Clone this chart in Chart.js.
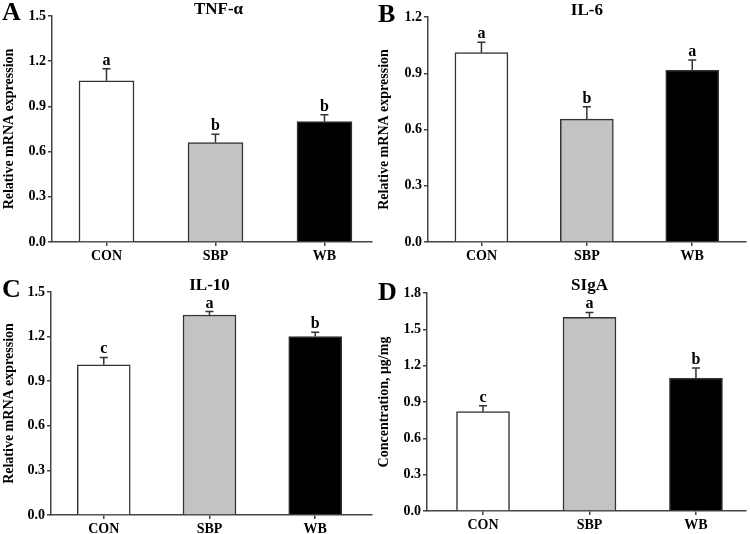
<!DOCTYPE html>
<html><head><meta charset="utf-8">
<script src="https://cdn.jsdelivr.net/npm/chart.js@4.4.1/dist/chart.umd.min.js"></script>
<style>
html,body{margin:0;padding:0;background:#fff;}
#wrap{position:relative;width:750px;height:534px;background:#fff;}
.p{position:absolute;width:375px;height:267px;}
canvas{display:block;}
</style></head><body>
<div id="wrap">
<div class="p" style="left:0;top:0"><canvas id="cA" width="375" height="267"></canvas></div>
<div class="p" style="left:375px;top:0"><canvas id="cB" width="375" height="267"></canvas></div>
<div class="p" style="left:0;top:267px"><canvas id="cC" width="375" height="267"></canvas></div>
<div class="p" style="left:375px;top:267px"><canvas id="cD" width="375" height="267"></canvas></div>
</div>
<script>
// ---- data ----
const categories = ['CON', 'SBP', 'WB'];

const tnfMean = [1.07, 0.66, 0.80];
const tnfErr  = [0.08, 0.055, 0.045];
const tnfSig  = ['a', 'b', 'b'];
const tnfTicks = [0.0, 0.3, 0.6, 0.9, 1.2, 1.5];

const il6Mean = [1.01, 0.655, 0.915];
const il6Err  = [0.055, 0.067, 0.056];
const il6Sig  = ['a', 'b', 'a'];
const il6Ticks = [0.0, 0.3, 0.6, 0.9, 1.2];

const il10Mean = [1.01, 1.345, 1.20];
const il10Err  = [0.05, 0.023, 0.029];
const il10Sig  = ['c', 'a', 'b'];
const il10Ticks = [0.0, 0.3, 0.6, 0.9, 1.2, 1.5];

const sigaMean = [0.82, 1.60, 1.095];
const sigaErr  = [0.05, 0.04, 0.085];
const sigaSig  = ['c', 'a', 'b'];
const sigaTicks = [0.0, 0.3, 0.6, 0.9, 1.2, 1.5, 1.8];

const barColors = ['#ffffff', '#c3c3c3', '#000000'];
// ---------------

const FONT = '"Liberation Serif", "Times New Roman", serif';
Chart.defaults.font.family = FONT;
Chart.defaults.color = '#000';

function makePanel(id, cfg) {
  const W = 375, H = 267;
  const area = cfg.area;
  const annot = {
    id: 'annot_' + id,
    afterDatasetsDraw(chart) {
      const { ctx, scales: { x, y } } = chart;
      ctx.save();
      cfg.mean.forEach((m, i) => {
        const px = x.getPixelForValue(i);
        const top = y.getPixelForValue(m);
        const et = y.getPixelForValue(m + cfg.err[i]);
        ctx.strokeStyle = '#333';
        ctx.lineWidth = 1.5;
        ctx.beginPath();
        ctx.moveTo(px, top); ctx.lineTo(px, et);
        ctx.moveTo(px - 4, et); ctx.lineTo(px + 4, et);
        ctx.stroke();
        ctx.fillStyle = '#000';
        ctx.font = 'bold 16px ' + FONT;
        ctx.textAlign = 'center';
        ctx.textBaseline = 'alphabetic';
        ctx.fillText(cfg.sig[i], px, et - 4);
      });
      ctx.font = 'bold 17px ' + FONT;
      ctx.textAlign = 'center';
      ctx.fillText(cfg.title, x.getPixelForValue(1) + cfg.titleDx, cfg.titleY);
      ctx.font = 'bold 26px ' + FONT;
      ctx.textAlign = 'left';
      ctx.fillText(cfg.letter, cfg.letterX, cfg.letterY);
      ctx.restore();
    }
  };
  return new Chart(document.getElementById(id), {
    type: 'bar',
    data: {
      datasets: [{
        data: cfg.mean.map((v, i) => ({ x: i, y: v })),
        backgroundColor: barColors,
        borderColor: '#333',
        borderWidth: 1.5,
        barThickness: cfg.barW
      }]
    },
    options: {
      responsive: false,
      animation: false,
      layout: { padding: { left: 0, top: area.top, right: W - area.right, bottom: 0 } },
      plugins: { legend: { display: false }, tooltip: { enabled: false } },
      scales: {
        x: {
          type: 'linear',
          offset: false,
          min: cfg.xMin, max: cfg.xMax,
          afterBuildTicks: s => { s.ticks = categories.map((c, i) => ({ value: i })); },
          afterFit: s => { s.height = H - area.bottom; },
          grid: { offset: false, drawOnChartArea: false, drawTicks: true, tickLength: 4, color: '#444', lineWidth: 1.5 },
          border: { color: '#444', width: 1.5 },
          ticks: { callback: v => categories[v], font: { size: 14, weight: 'bold' }, color: '#000', padding: 2, maxRotation: 0, autoSkip: false }
        },
        y: {
          min: 0, max: cfg.ticks[cfg.ticks.length - 1],
          afterBuildTicks: s => { s.ticks = cfg.ticks.map(v => ({ value: v })); },
          afterFit: s => { s.width = area.left; },
          grid: { drawOnChartArea: false, drawTicks: true, tickLength: 4, color: '#444', lineWidth: 1.5 },
          border: { color: '#444', width: 1.5 },
          ticks: { callback: v => Number(v).toFixed(1), font: { size: 14, weight: 'bold' }, color: '#000', padding: 2, autoSkip: false },
          title: { display: true, text: cfg.yTitle, font: { size: 14, weight: 'bold' }, color: '#000', padding: { top: 1, bottom: 0 } }
        }
      }
    },
    plugins: [annot]
  });
}

makePanel('cA', {
  mean: tnfMean, err: tnfErr, sig: tnfSig, ticks: tnfTicks,
  title: 'TNF-α', titleDx: 3, titleY: 14, letter: 'A', letterX: 2, letterY: 20,
  yTitle: 'Relative mRNA expression',
  area: { left: 52, right: 372, top: 16, bottom: 242 },
  xMin: -0.5, xMax: 2.436, barW: 55
});
makePanel('cB', {
  mean: il6Mean, err: il6Err, sig: il6Sig, ticks: il6Ticks,
  title: 'IL-6', titleDx: 0, titleY: 15, letter: 'B', letterX: 3, letterY: 21.5,
  yTitle: 'Relative mRNA expression',
  area: { left: 53, right: 371, top: 17, bottom: 242 },
  xMin: -0.507, xMax: 2.51, barW: 53
});
makePanel('cC', {
  mean: il10Mean, err: il10Err, sig: il10Sig, ticks: il10Ticks,
  title: 'IL-10', titleDx: 0, titleY: 23, letter: 'C', letterX: 2, letterY: 30,
  yTitle: 'Relative mRNA expression',
  area: { left: 51, right: 372, top: 25, bottom: 248 },
  xMin: -0.499, xMax: 2.537, barW: 53
});
makePanel('cD', {
  mean: sigaMean, err: sigaErr, sig: sigaSig, ticks: sigaTicks,
  title: 'SIgA', titleDx: 0, titleY: 23, letter: 'D', letterX: 3, letterY: 33,
  yTitle: 'Concentration, μg/mg',
  area: { left: 52, right: 371, top: 26, bottom: 244 },
  xMin: -0.526, xMax: 2.47, barW: 53
});
</script>
</body></html>
